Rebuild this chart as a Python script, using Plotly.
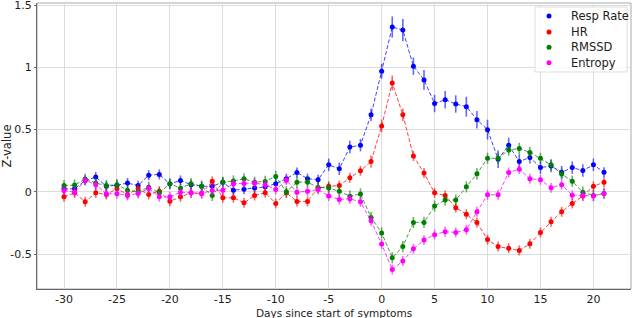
import plotly.graph_objects as go

days = list(range(-30, 22))

resp_rate = [0.024, 0.024, 0.092, 0.119, 0.045, 0.053, 0.071, 0.05, 0.134, 0.14,
             0.063, 0.092, 0.058, 0.045, 0.045, 0.077, 0.013, 0.02, 0.03, 0.04,
             0.066, 0.106, 0.156, 0.106, 0.098, 0.217, 0.185, 0.36, 0.375, 0.62,
             0.97, 1.325, 1.30, 1.01, 0.90, 0.71, 0.74, 0.706, 0.685, 0.58,
             0.50, 0.262, 0.375, 0.243, 0.277, 0.195, 0.208, 0.158, 0.195, 0.171,
             0.217, 0.158]
resp_err = [0.04] * 25 + [0.05, 0.05, 0.05, 0.05, 0.05,
                          0.06, 0.085, 0.09, 0.07, 0.08, 0.07, 0.07, 0.07, 0.08, 0.07,
                          0.08, 0.07, 0.06, 0.06, 0.05, 0.05, 0.05, 0.05, 0.05, 0.05,
                          0.05, 0.04]

hr = [-0.04, -0.008, -0.08, -0.008, -0.021, 0.024, -0.021, 0.024, -0.021, 0.005,
      -0.075, -0.04, -0.008, -0.013, 0.085, -0.048, -0.048, -0.088, -0.03, -0.008,
      -0.093, -0.008, -0.077, -0.077, 0.031, 0.045, 0.05, 0.113, 0.17, 0.243,
      0.53, 0.875, 0.62, 0.288, 0.151, -0.008, -0.029, -0.127, -0.18, -0.246,
      -0.384, -0.44, -0.453, -0.471, -0.418, -0.326, -0.241, -0.161, -0.093, -0.034,
      0.045, 0.077]
hr_err = [0.04] * 29 + [0.05, 0.05, 0.06, 0.05, 0.04, 0.04] + [0.04] * 17

rmssd = [0.05, 0.055, 0.103, 0.071, 0.05, 0.058, 0.013, 0.0, 0.037, -0.008,
         0.066, 0.029, 0.066, 0.045, -0.029, 0.077, 0.087, 0.105, 0.077, 0.084,
         0.124, 0.0, 0.078, 0.078, 0.035, 0.03, 0.005, -0.035, -0.017, -0.206,
         -0.33, -0.53, -0.44, -0.246, -0.246, -0.114, -0.066, -0.066, 0.04, 0.145,
         0.27, 0.27, 0.336, 0.349, 0.317, 0.27, 0.217, 0.143, 0.085, -0.003,
         -0.029, -0.013]
rmssd_err = [0.045] * 52

entropy = [0.011, -0.003, 0.092, 0.058, -0.016, -0.016, -0.029, -0.013, 0.027, -0.04,
           -0.04, -0.003, -0.008, -0.013, 0.011, 0.013, 0.066, 0.068, 0.07, 0.058,
           0.018, 0.093, -0.003, 0.005, 0.018, -0.034, -0.061, -0.056, -0.08, -0.233,
           -0.42, -0.625, -0.556, -0.458, -0.387, -0.344, -0.32, -0.326, -0.305, -0.16,
           -0.024, -0.024, 0.156, 0.182, 0.105, 0.098, 0.032, 0.058, -0.027, -0.029,
           -0.034, -0.013]
entropy_err = [0.04] * 52

series_names = ["Resp Rate", "HR", "RMSSD", "Entropy"]
series_values = [resp_rate, hr, rmssd, entropy]
series_errors = [resp_err, hr_err, rmssd_err, entropy_err]
series_colors = ["#0000ff", "#ff0000", "#008000", "#ff00ff"]

x_ticks = [-30, -25, -20, -15, -10, -5, 0, 5, 10, 15, 20]
x_tick_text = ["-30", "-25", "-20", "-15", "-10", "-5", "0", "5", "10", "15", "20"]
y_ticks = [-0.5, 0, 0.5, 1, 1.5]
y_tick_text = ["-0.5", "0", "0.5", "1", "1.5"]


def rgba(hexc, a):
    h = hexc.lstrip("#")
    return "rgba(%d,%d,%d,%s)" % (int(h[0:2], 16), int(h[2:4], 16), int(h[4:6], 16), a)


fig = go.Figure()
for name, vals, err, col in zip(series_names, series_values, series_errors, series_colors):
    fig.add_trace(go.Scatter(
        x=days, y=vals, mode="lines+markers", name=name, showlegend=False,
        line=dict(color=rgba(col, 0.75), width=1, dash="4px,2px"),
        marker=dict(color=col, size=5),
        error_y=dict(type="data", array=err, visible=True, thickness=1.6,
                     width=0, color=rgba(col, 0.6)),
    ))

font = "DejaVu Sans, sans-serif"

# plot area: x 37..631, y 3..289 (height 286)
shapes = [dict(type="rect", xref="paper", yref="paper", x0=0, y0=0, x1=1, y1=1,
               line=dict(color="#aaaaaa", width=1), fillcolor="rgba(0,0,0,0)",
               layer="below"),
          dict(type="rect", xref="paper", yref="paper", x0=0.8384, x1=0.9933,
               y0=0.7587, y1=0.9860, line=dict(color="#dddddd", width=1),
               fillcolor="rgba(255,255,255,0.85)", layer="above")]
annotations = []
leg_y = [0.9545, 0.8986, 0.8450, 0.7910]
for name, col, ly in zip(series_names, series_colors, leg_y):
    shapes.append(dict(type="circle", xref="paper", yref="paper",
                       xsizemode="pixel", ysizemode="pixel",
                       xanchor=0.862, yanchor=ly, x0=-2.5, x1=2.5, y0=-2.5, y1=2.5,
                       fillcolor=col, line=dict(width=0), layer="above"))
    annotations.append(dict(xref="paper", yref="paper", x=0.8956, y=ly,
                            xanchor="left", yanchor="middle", text=name,
                            showarrow=False, font=dict(size=11.5, color="#222")))

annotations.append(dict(xref="paper", yref="paper", x=0.5, y=0, xanchor="center",
                        yanchor="top", yshift=-15.5, showarrow=False,
                        text="Days since start of symptoms",
                        font=dict(size=10.5, color="#222")))

fig.update_layout(
    width=632, height=318,
    margin=dict(l=37, r=1, t=3, b=29),
    paper_bgcolor="white", plot_bgcolor="white",
    font=dict(family=font, size=11, color="#222"),
    showlegend=False,
    xaxis=dict(
        range=[-32.55, 23.55], tickvals=x_ticks, ticktext=x_tick_text,
        showgrid=True, gridcolor="#dcdcdc", gridwidth=1, zeroline=False,
        showline=True, linecolor="#666", linewidth=1,
        ticks="", ticklabelstandoff=0,
        tickfont=dict(size=11), automargin=False, ticklabeloverflow="allow",
    ),
    yaxis=dict(
        range=[-0.781, 1.518], tickvals=y_ticks, ticktext=y_tick_text,
        showgrid=True, gridcolor="#dcdcdc", gridwidth=1, zeroline=False,
        showline=True, linecolor="#666", linewidth=1,
        ticks="outside", ticklen=2, tickcolor="#666",
        title=dict(text="Z-value", standoff=2, font=dict(size=11.5)),
        tickfont=dict(size=11), automargin=False, ticklabeloverflow="allow",
    ),
    shapes=shapes,
    annotations=annotations,
)

fig.write_html("out.html", config={"displayModeBar": False},
               post_script="document.body.style.margin='0';document.body.style.overflow='hidden';")
